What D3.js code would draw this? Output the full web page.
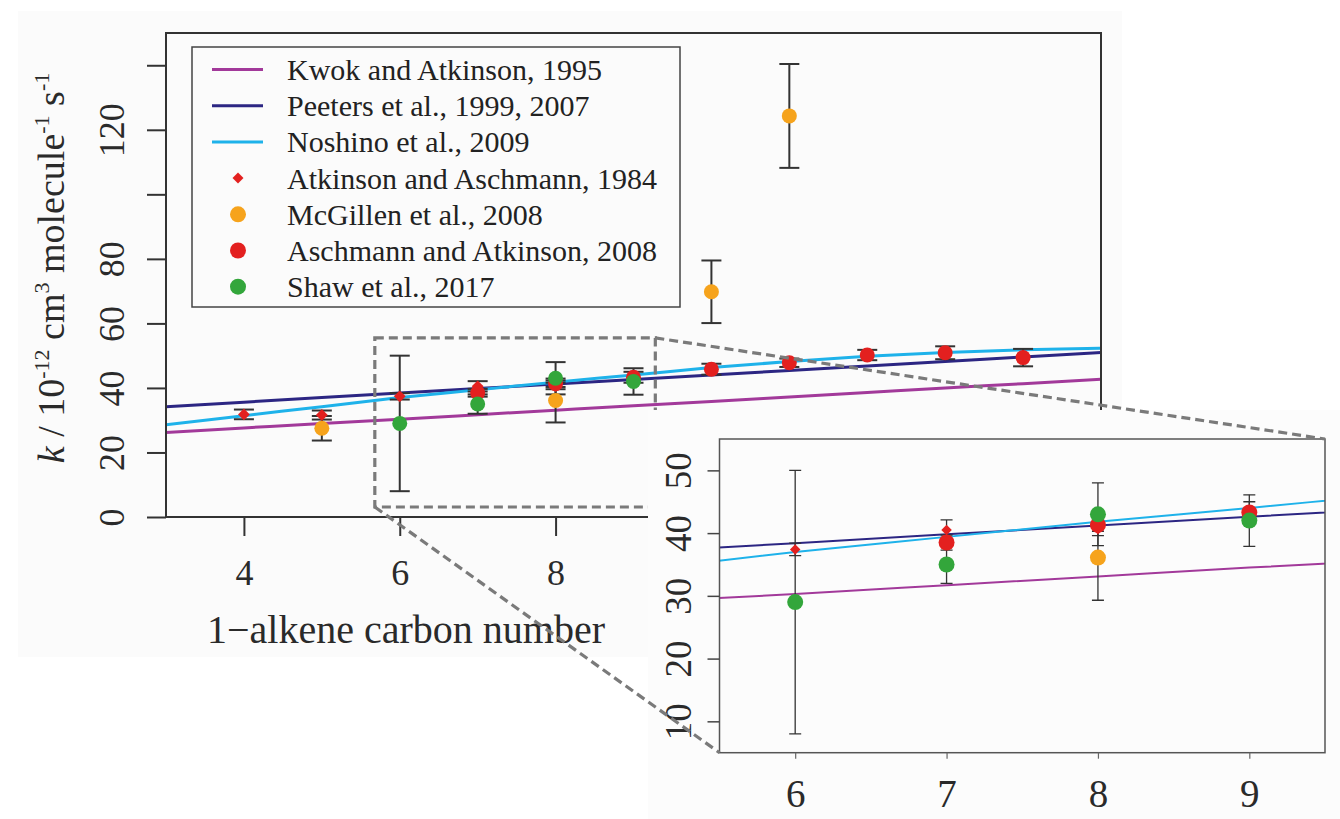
<!DOCTYPE html>
<html><head><meta charset="utf-8">
<script src="https://cdn.jsdelivr.net/npm/d3@7/dist/d3.min.js"></script>
<style>
html,body{margin:0;padding:0;background:#fff;}
svg{display:block;font-family:"Liberation Serif","Times New Roman",serif;}
</style></head>
<body><svg id="chart" width="1340" height="819"></svg>
<script>
// ---------- data ----------
const carbonNumber = [3,4,5,6,7,8,9,10,11,12,13,14,15];
const kwok1995     = [26.2,27.6,29.0,30.3,31.7,33.1,34.5,35.8,37.2,38.6,40.0,41.3,42.7];
const peeters      = [34.2,35.6,37.0,38.4,39.8,41.2,42.6,44.0,45.4,46.8,48.2,49.6,51.0];
const noshino2009  = [28.6,31.4,34.2,37.0,39.4,41.8,44.0,46.3,48.2,49.8,51.0,51.8,52.3];

const atk1984N   = [4,5,6,7,8];
const atk1984K   = [31.8,31.6,37.4,40.5,40.6];
const atk1984Err = [1.5,1.4,1.0,1.6,1.0];

const mcg2008N   = [5,8,10,11];
const mcg2008K   = [27.5,36.1,69.8,124.3];
const mcg2008Err = [3.8,6.8,9.7,16.1];

const asch2008N   = [7,8,9,10,11,12,13,14];
const asch2008K   = [38.5,41.3,43.3,45.8,47.8,50.2,50.9,49.4];
const asch2008Err = [1.2,1.0,1.7,1.7,1.3,1.6,2.0,2.7];

const shaw2017N   = [6,7,8,9];
const shaw2017K   = [29.0,35.0,43.0,42.0];
const shaw2017Err = [21.0,3.0,5.0,4.1];

const mainXTicks  = [4,6,8,10,12,14];
const mainYTicks  = [0,20,40,60,80,100,120,140];
const mainYLabels = [0,20,40,60,80,120];
const insetXTicks = [6,7,8,9];
const insetYTicks = [10,20,30,40,50];
const zoomBoxX = [5.68,9.28];
const zoomBoxY = [3.1,55.5];

const legendLabels = ["Kwok and Atkinson, 1995","Peeters et al., 1999, 2007","Noshino et al., 2009",
  "Atkinson and Aschmann, 1984","McGillen et al., 2008","Aschmann and Atkinson, 2008","Shaw et al., 2017"];

// ---------- styles ----------
const C = {kwok:"#a2399a", peeters:"#2c2683", noshino:"#1eb2ea", red:"#e3201f", orange:"#f6a31c", green:"#33a63b", axis:"#333", dash:"#7a7a7a"};
const FONT = "Liberation Serif";

const svg = d3.select("#chart");
svg.append("rect").attr("width",1340).attr("height",819).attr("fill","#fff");
svg.append("rect").attr("x",18).attr("y",11).attr("width",1104).attr("height",646).attr("fill","#fbfbfb");

const lineSeries = [
  {vals:kwok1995, color:C.kwok},
  {vals:peeters, color:C.peeters},
  {vals:noshino2009, color:C.noshino}
];
const pts = (N,K,E)=>N.map((n,i)=>({n, k:K[i], e:E[i]}));
const atk = pts(atk1984N,atk1984K,atk1984Err);
const mcg = pts(mcg2008N,mcg2008K,mcg2008Err);
const asch = pts(asch2008N,asch2008K,asch2008Err);
const shaw = pts(shaw2017N,shaw2017K,shaw2017Err);

function drawPanel(g, x, y, opt){
  const lineGen = d3.line().x((d,i)=>x(carbonNumber[i])).y(d=>y(d)).curve(d3.curveMonotoneX);
  const clipId = opt.clip;
  g.append("clipPath").attr("id",clipId).append("rect")
    .attr("x",x.range()[0]).attr("y",y.range()[1])
    .attr("width",x.range()[1]-x.range()[0]).attr("height",y.range()[0]-y.range()[1]);
  const cg = g.append("g").attr("clip-path",`url(#${clipId})`);
  lineSeries.forEach(s=>{
    cg.append("path").attr("d",lineGen(s.vals)).attr("fill","none")
      .attr("stroke",s.color).attr("stroke-width",opt.lw);
  });
  [atk,mcg,asch,shaw].forEach(set=>{
    set.forEach(p=>{
      const gx = x(p.n), y1 = y(p.k+p.e), y2 = y(p.k-p.e);
      const eg = cg.append("g").attr("stroke",C.axis).attr("stroke-width",opt.ew);
      eg.append("line").attr("x1",gx).attr("x2",gx).attr("y1",y1).attr("y2",y2);
      eg.append("line").attr("x1",gx-opt.cap).attr("x2",gx+opt.cap).attr("y1",y1).attr("y2",y1);
      eg.append("line").attr("x1",gx-opt.cap).attr("x2",gx+opt.cap).attr("y1",y2).attr("y2",y2);
    });
  });
  const dia = d3.symbol().type(d3.symbolSquare).size(opt.dsz);
  atk.forEach(p=>{
    cg.append("path").attr("d",dia()).attr("fill",C.red)
      .attr("transform",`translate(${x(p.n)},${y(p.k)}) rotate(45)`);
  });
  [[mcg,C.orange],[asch,C.red],[shaw,C.green]].forEach(([set,col])=>{
    set.forEach(p=>{
      cg.append("circle").attr("cx",x(p.n)).attr("cy",y(p.k)).attr("r",opt.r).attr("fill",col);
    });
  });
}

// ---------- main panel ----------
const x = d3.scaleLinear().domain([3,15]).range([166,1101]);
const y = d3.scaleLinear().domain([0,150]).range([517,33]);
const main = svg.append("g");
drawPanel(main, x, y, {clip:"clipMain", lw:3, ew:2, cap:10, r:7.5, dsz:70});

main.append("rect").attr("x",166).attr("y",33).attr("width",1101-166).attr("height",517-33)
  .attr("fill","none").attr("stroke",C.axis).attr("stroke-width",2);

const yAx = main.append("g").attr("transform","translate(166,0)")
  .call(d3.axisLeft(y).tickValues(mainYTicks).tickSize(19).tickFormat(d=>mainYLabels.includes(d)?d:""));
yAx.select(".domain").remove();
yAx.selectAll("line").attr("stroke",C.axis).attr("stroke-width",2);
yAx.selectAll("text").attr("transform","rotate(-90)").attr("x",0).attr("y",-42).attr("dy",0)
  .attr("text-anchor","middle").attr("fill","#2a2a2a").style("font-size","36px").style("font-family",FONT);

const xAx = main.append("g").attr("transform","translate(0,517)")
  .call(d3.axisBottom(x).tickValues(mainXTicks).tickSize(19));
xAx.select(".domain").remove();
xAx.selectAll("line").attr("stroke",C.axis).attr("stroke-width",2);
xAx.selectAll("text").attr("y",68).attr("dy",0).attr("fill","#2a2a2a").style("font-size","36px").style("font-family",FONT);

main.append("text").attr("x",406).attr("y",643).attr("text-anchor","middle")
  .attr("fill","#2a2a2a").style("font-size","40px").text("1\u2212alkene carbon number");

const yt = main.append("text").attr("transform","translate(64,268) rotate(-90)")
  .attr("text-anchor","middle").attr("fill","#2a2a2a").style("font-size","38px");
yt.append("tspan").style("font-style","italic").text("k");
yt.append("tspan").text(" / 10");
yt.append("tspan").attr("dy",-15).style("font-size","22px").text("-12");
yt.append("tspan").attr("dy",15).text(" cm");
yt.append("tspan").attr("dy",-15).style("font-size","22px").text("3");
yt.append("tspan").attr("dy",15).text(" molecule");
yt.append("tspan").attr("dy",-15).style("font-size","22px").text("-1");
yt.append("tspan").attr("dy",15).text(" s");
yt.append("tspan").attr("dy",-15).style("font-size","22px").text("-1");

// legend
const lg = main.append("g");
lg.append("rect").attr("x",192).attr("y",47).attr("width",488).attr("height",260)
  .attr("fill","#fbfbfb").attr("stroke","#444").attr("stroke-width",1.5);
const legendKeys = [
  {t:"line",c:C.kwok},{t:"line",c:C.peeters},{t:"line",c:C.noshino},
  {t:"dia",c:C.red},{t:"circ",c:C.orange},{t:"circ",c:C.red},{t:"circ",c:C.green}];
legendLabels.forEach((lab,i)=>{
  const cy = 69.5 + i*36.2;
  const k = legendKeys[i];
  if(k.t==="line") lg.append("line").attr("x1",212).attr("x2",263).attr("y1",cy).attr("y2",cy).attr("stroke",k.c).attr("stroke-width",3);
  else if(k.t==="dia") lg.append("path").attr("d",d3.symbol().type(d3.symbolSquare).size(60)()).attr("fill",k.c).attr("transform",`translate(238,${cy}) rotate(45)`);
  else lg.append("circle").attr("cx",238).attr("cy",cy).attr("r",8).attr("fill",k.c);
  lg.append("text").attr("x",287).attr("y",cy+10.5).attr("fill","#222").style("font-size","30px").text(lab);
});

// zoom box in main
main.append("rect").attr("x",x(zoomBoxX[0])).attr("y",y(zoomBoxY[1]))
  .attr("width",x(zoomBoxX[1])-x(zoomBoxX[0])).attr("height",y(zoomBoxY[0])-y(zoomBoxY[1]))
  .attr("fill","none").attr("stroke",C.dash).attr("stroke-width",3.2).attr("stroke-dasharray","9,5");

// ---------- inset ----------
svg.append("rect").attr("x",648).attr("y",410).attr("width",692).attr("height",409).attr("fill","#fcfcfc");
const xi = d3.scaleLinear().domain([5.5,9.5]).range([719.5,1325]);
const yi = d3.scaleLinear().domain([5,55]).range([752.7,439]);
const ins = svg.append("g");
drawPanel(ins, xi, yi, {clip:"clipInset", lw:2, ew:1.3, cap:6, r:8, dsz:55});
ins.append("rect").attr("x",719.5).attr("y",439).attr("width",1325-719.5).attr("height",752.7-439)
  .attr("fill","none").attr("stroke","#555").attr("stroke-width",1.5);
const yiAx = ins.append("g").attr("transform","translate(719.5,0)")
  .call(d3.axisLeft(yi).tickValues(insetYTicks).tickSize(12).tickFormat(d3.format("d")));
yiAx.select(".domain").remove();
yiAx.selectAll("line").attr("stroke","#444").attr("stroke-width",1.5);
yiAx.selectAll("text").attr("transform","rotate(-90)").attr("x",0).attr("y",-29).attr("dy",0)
  .attr("text-anchor","middle").attr("fill","#2a2a2a").style("font-size","37px").style("font-family",FONT);
const xiAx = ins.append("g").attr("transform","translate(0,752.7)")
  .call(d3.axisBottom(xi).tickValues(insetXTicks).tickSize(6).tickFormat(d3.format("d")));
xiAx.select(".domain").remove();
xiAx.selectAll("line").attr("stroke","#666").attr("stroke-width",1.2);
xiAx.selectAll("text").attr("y",54).attr("dy",0).attr("fill","#2a2a2a").style("font-size","39px").style("font-family",FONT);

// connectors
const conn = svg.append("g").attr("stroke",C.dash).attr("stroke-width",3.2).attr("stroke-dasharray","9,5");
conn.append("line").attr("x1",x(zoomBoxX[1])).attr("y1",y(zoomBoxY[1])).attr("x2",xi(9.5)).attr("y2",yi(55));
conn.append("line").attr("x1",x(zoomBoxX[0])).attr("y1",y(zoomBoxY[0])).attr("x2",xi(5.5)).attr("y2",yi(5));
</script></body></html>
